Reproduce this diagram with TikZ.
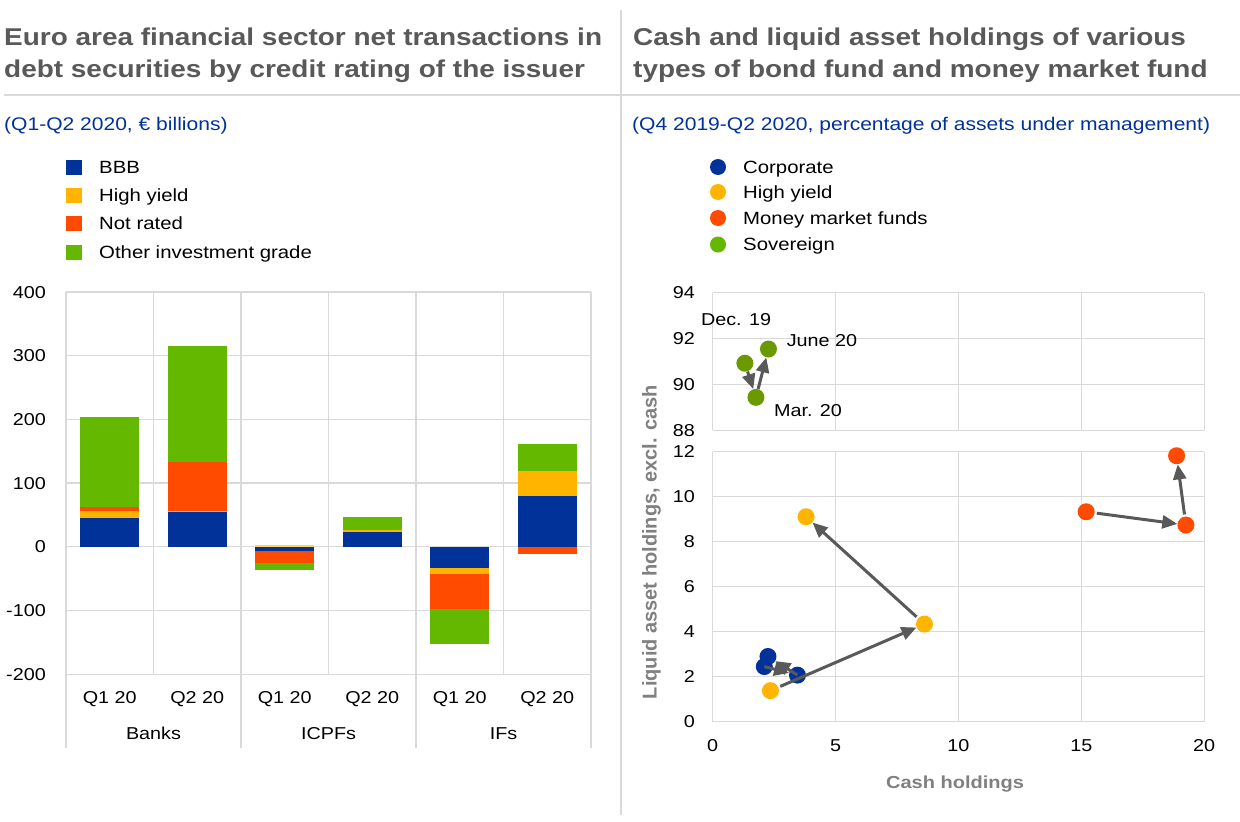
\documentclass[tikz,border=0pt]{standalone}
\usepackage{fontspec}
\setmainfont[FakeStretch=1.15]{Liberation Sans}
\newfontfamily\plainsans{Liberation Sans}
\usetikzlibrary{arrows.meta}
\definecolor{ecbblue}{HTML}{003299}
\definecolor{ecbyellow}{HTML}{FFB400}
\definecolor{ecborange}{HTML}{FF4B00}
\definecolor{ecbgreen}{HTML}{65B800}
\definecolor{sovgreen}{HTML}{6A9A00}
\definecolor{gridgray}{HTML}{D9D9D9}
\definecolor{titlegray}{HTML}{595959}
\definecolor{axisgray}{HTML}{808080}
\definecolor{arrowgray}{HTML}{595959}
\newcommand{\mybar}[4]{\fill[#1] (#2-0.3375,#3) rectangle (#2+0.3375,#4);}
\begin{document}
\begin{tikzpicture}[x=1pt,y=-1pt,
  gridline/.style={draw=gridgray,line width=1.2pt},
  sepline/.style={draw=gridgray,line width=1.6pt},
  txt/.style={inner sep=0pt,text height=12.3pt,text depth=0pt,font=\fontsize{17.2}{20}\selectfont},
  legtxt/.style={inner sep=0pt,text height=12.7pt,text depth=0pt,anchor=west,font=\fontsize{17.7}{21}\selectfont},
  ttl/.style={inner sep=0pt,anchor=base west,text=titlegray,font=\fontsize{24.3}{28}\selectfont\bfseries},
  subttl/.style={inner sep=0pt,anchor=base west,text=ecbblue,font=\fontsize{18.3}{22}\selectfont},
  dot/.style={circle,inner sep=0pt,minimum size=17pt,fill=#1},
  legdot/.style={circle,inner sep=0pt,minimum size=16pt,fill=#1},
  legsq/.style={inner sep=0pt,minimum width=16pt,minimum height=15pt,fill=#1},
  arr/.style={draw=arrowgray,line width=3pt,-{Triangle[length=15pt,width=13pt]},shorten <=2pt},
  axttl/.style={text=axisgray,inner sep=0pt}
]
\useasboundingbox (0,0) rectangle (1240,822);
\fill[white] (0,0) rectangle (1240,822);

% separators
\draw[sepline] (4,95) -- (1240,95);
\draw[sepline] (621,10) -- (621,815);

% titles
\node[ttl] (t1a) at (4,45.7) {Euro area financial sector net transactions in};
\node[ttl] (t1b) at (4,77) {debt securities by credit rating of the issuer};
\node[ttl] (t2a) at (633,45.7) {Cash and liquid asset holdings of various};
\node[ttl] (t2b) at (633,77) {types of bond fund and money market fund};
\node[subttl] (s1) at (4,130) {(Q1-Q2 2020, € billions)};
\node[subttl] (s2) at (632,130) {(Q4 2019-Q2 2020, percentage of assets under management)};

% left legend
\foreach \c/\t/\yy [count=\k] in {ecbblue/BBB/167,ecbyellow/High yield/195,ecborange/Not rated/223,ecbgreen/Other investment grade/252}{
  \node[legsq=\c] (lsq\k) at (74,\yy) {};
  \node[legtxt] (ltx\k) at (99,\yy) {\t};
}
% right legend
\foreach \c/\t/\yy [count=\k] in {ecbblue/Corporate/167,ecbyellow/High yield/192,ecborange/Money market funds/218,ecbgreen/Sovereign/244.5}{
  \node[legdot=\c] (rdt\k) at (718,\yy) {};
  \node[legtxt] (rtx\k) at (743,\yy) {\t};
}

% ---------------- left bar chart ----------------
\begin{scope}[shift={(66,546.7)},x=87.5pt,y=0.637pt]
  \foreach \v in {-200,-100,...,400} \draw[gridline] (0,\v) -- (6,\v);
  \foreach \i in {0,...,6} \draw[gridline] (\i,-200) -- (\i,400);
  \foreach \i in {0,2,4,6} \draw[gridline] (\i,-200) -- (\i,-316);
  % Banks Q1
  \mybar{ecbblue}{0.5}{0}{45.7}
  \mybar{ecbyellow}{0.5}{45.7}{56.7}
  \mybar{ecborange}{0.5}{56.7}{62}
  \mybar{ecbgreen}{0.5}{62}{204}
  % Banks Q2
  \mybar{ecbblue}{1.5}{0}{55.6}
  \mybar{ecbyellow}{1.5}{55.6}{56.5}
  \mybar{ecborange}{1.5}{56.5}{133}
  \mybar{ecbgreen}{1.5}{133}{315.5}
  % ICPFs Q1
  \mybar{ecbyellow!60}{2.5}{0}{2}
  \mybar{ecbblue}{2.5}{-1}{-6}
  \mybar{ecborange}{2.5}{-6}{-25.5}
  \mybar{ecbgreen}{2.5}{-25.5}{-36.5}
  % ICPFs Q2
  \mybar{ecbblue}{3.5}{0}{22.6}
  \mybar{ecbyellow}{3.5}{22.6}{25.7}
  \mybar{ecbgreen}{3.5}{25.7}{46}
  % IFs Q1
  \mybar{ecbblue}{4.5}{0}{-34}
  \mybar{ecbyellow}{4.5}{-34}{-43}
  \mybar{ecborange}{4.5}{-43}{-98.4}
  \mybar{ecbgreen}{4.5}{-98.4}{-152}
  % IFs Q2
  \mybar{ecbblue}{5.5}{0}{80.3}
  \mybar{ecbyellow}{5.5}{80.3}{119}
  \mybar{ecbgreen}{5.5}{119}{161.7}
  \mybar{ecborange}{5.5}{0}{-12}
  % y tick labels
  \foreach \v [count=\k] in {-200,-100,0,100,200,300,400}
    \node[txt,anchor=east] (ly\k) at (-0.229,\v) {\v};
  % category labels
  \foreach \i/\t in {0/Q1 20,1/Q2 20,2/Q1 20,3/Q2 20,4/Q1 20,5/Q2 20}
    \node[txt] (cat\i) at (\i+0.5,-236.7) {\t};
  \node[txt] (gBanks) at (1,-293.6) {Banks};
  \node[txt] (gICPF) at (3,-293.6) {ICPFs};
  \node[txt] (gIF) at (5,-293.6) {IFs};
\end{scope}

% ---------------- right scatter: upper panel ----------------
\begin{scope}[shift={(712.7,430.1)},x=24.57pt,y=22.9pt]
  \foreach \v in {0,2,4,6} \draw[gridline] (0,\v) -- (20,\v);
  \foreach \u in {0,5,10,15,20} \draw[gridline] (\u,0) -- (\u,6);
  \foreach \v/\t in {0/88,2/90,4/92,6/94}
    \node[txt,anchor=east] (uy\t) at (-0.72,\v) {\t};
  \node[dot=sovgreen] (sdec) at (1.31,2.92) {};
  \node[dot=sovgreen] (smar) at (1.76,1.43) {};
  \node[dot=sovgreen] (sjun) at (2.27,3.54) {};
  \draw[arr,shorten <=0pt] (sdec) -- (smar);
  \draw[arr,shorten <=0pt] (smar) -- (sjun);
  \node[txt] (ldec) at (0.95,4.83) {Dec. 19};
  \node[txt] (ljun) at (4.45,3.9) {June 20};
  \node[txt] (lmar) at (3.88,0.88) {Mar. 20};
\end{scope}

% ---------------- right scatter: lower panel ----------------
\begin{scope}[shift={(712.7,721.7)},x=24.57pt,y=22.5pt]
  \foreach \v in {0,2,...,12} \draw[gridline] (0,\v) -- (20,\v);
  \foreach \u in {0,5,10,15,20} \draw[gridline] (\u,0) -- (\u,12);
  \foreach \v in {0,2,...,12}
    \node[txt,anchor=east] (ly\v) at (-0.72,\v) {\v};
  \foreach \u in {0,5,10,15,20}
    \node[txt] (lx\u) at (\u,-1.036) {\u};
  % money market funds
  \node[dot=ecborange] (m1) at (15.2,9.33) {};
  \node[dot=ecborange] (m2) at (19.26,8.74) {};
  \node[dot=ecborange] (m3) at (18.88,11.82) {};
  % high yield
  \node[dot=ecbyellow] (h1) at (2.35,1.38) {};
  \node[dot=ecbyellow] (h2) at (8.62,4.34) {};
  \node[dot=ecbyellow] (h3) at (3.8,9.11) {};
  % corporate
  \node[dot=ecbblue] (c1) at (2.1,2.45) {};
  \node[dot=ecbblue] (c2) at (3.45,2.07) {};
  \node[dot=ecbblue] (c3) at (2.25,2.9) {};
  \draw[arr] (m1) -- (m2);
  \draw[arr] (m2) -- (m3);
  \draw[arr] (h1) -- (h2);
  \draw[arr] (h2) -- (h3);
  \draw[arr,shorten <=0pt] (c1.center) -- (c2);
  \draw[arr,shorten <=0pt] (c2.center) -- (c3);
\end{scope}

% axis titles
\node[axttl,rotate=90,font=\plainsans\fontsize{20}{24}\selectfont\bfseries] (ytitle) at (651.6,542) {Liquid asset holdings, excl. cash};
\node[axttl,text height=12.5pt,text depth=0pt,font=\fontsize{17.4}{21}\selectfont\bfseries] (xtitle) at (955,782) {Cash holdings};
\end{tikzpicture}
\end{document}
